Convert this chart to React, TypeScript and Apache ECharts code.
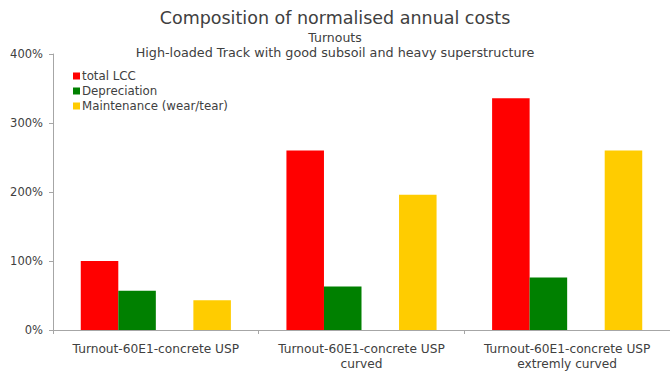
import React, { useEffect, useRef } from "react";
import * as echarts from "echarts";

const categories = [
  "Turnout-60E1-concrete USP",
  "Turnout-60E1-concrete USP\ncurved",
  "Turnout-60E1-concrete USP\nextremly curved",
];
const totalLCC = [100, 260, 336];
const depreciation = [57, 63, 76];
const spacer = [null, null, null];
const maintenance = [43, 196, 260];
const yTicks = [0, 100, 200, 300, 400];

const FONT = "DejaVu Sans, Verdana, sans-serif";
const TXT = "#404040";

export default function App() {
  const ref = useRef<HTMLDivElement>(null);
  useEffect(() => {
    if (!ref.current) return;
    const chart = echarts.init(ref.current, null, { renderer: "svg" });
    chart.setOption({
      animation: false,
      textStyle: { fontFamily: FONT },
      title: [
        {
          text: "Composition of normalised annual costs",
          left: "center",
          top: 4,
          textStyle: { fontFamily: FONT, fontSize: 17.5, fontWeight: "normal", color: TXT },
        },
        {
          text: "Turnouts",
          left: "center",
          top: 26,
          textStyle: { fontFamily: FONT, fontSize: 12.5, fontWeight: "normal", color: TXT },
        },
        {
          text: "High-loaded Track with good subsoil and heavy superstructure",
          left: "center",
          top: 41,
          textStyle: { fontFamily: FONT, fontSize: 12.75, fontWeight: "normal", color: TXT },
        },
      ],
      legend: {
        data: ["total LCC", "Depreciation", "Maintenance (wear/tear)"],
        orient: "vertical",
        left: 68,
        top: 65,
        itemWidth: 7,
        itemHeight: 7,
        itemGap: 3,
        icon: "rect",
        textStyle: { fontFamily: FONT, fontSize: 11.8, color: TXT, padding: [0, 0, 0, -3] },
      },
      grid: { left: 53, right: -6, top: 54, bottom: 39, containLabel: false },
      xAxis: {
        type: "category",
        data: categories,
        axisLine: { lineStyle: { color: "#a6a6a6" } },
        axisTick: { show: true, alignWithLabel: false, lineStyle: { color: "#a6a6a6" }, length: 4 },
        axisLabel: { fontFamily: FONT, fontSize: 12.2, color: TXT, margin: 11, lineHeight: 15, interval: 0 },
      },
      yAxis: {
        type: "value",
        min: 0,
        max: 400,
        interval: 100,
        axisLine: { show: true, lineStyle: { color: "#a6a6a6" } },
        axisTick: { show: true, lineStyle: { color: "#a6a6a6" }, length: 4 },
        splitLine: { show: false },
        axisLabel: {
          fontFamily: FONT,
          fontSize: 11.5,
          color: TXT,
          margin: 10,
          formatter: (v: number) => (yTicks.includes(v) ? v + "%" : ""),
        },
      },
      series: [
        { name: "total LCC", type: "bar", data: totalLCC, itemStyle: { color: "#ff0000" }, barGap: "0%", barCategoryGap: "27%" },
        { name: "Depreciation", type: "bar", data: depreciation, itemStyle: { color: "#008000" } },
        { name: "spacer", type: "bar", data: spacer, itemStyle: { color: "transparent" } },
        { name: "Maintenance (wear/tear)", type: "bar", data: maintenance, itemStyle: { color: "#ffcc00" } },
      ],
    });
    return () => chart.dispose();
  }, []);
  return (
    <div style={{ position: "absolute", left: 0, top: 0, width: 670, height: 371, overflow: "hidden", background: "#fff" }}>
      <div ref={ref} style={{ width: 670, height: 371 }} />
    </div>
  );
}
